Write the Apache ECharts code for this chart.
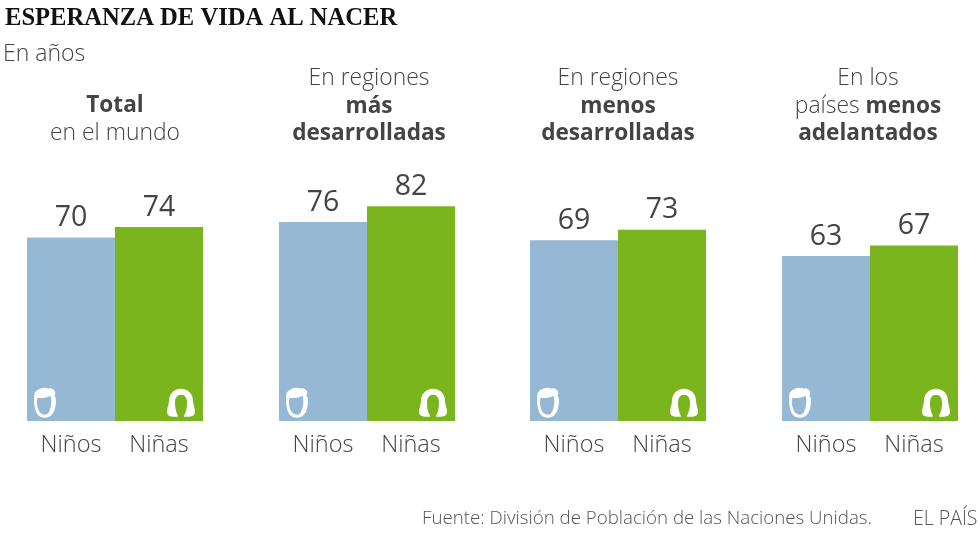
<!DOCTYPE html>
<html>
<head>
<meta charset="utf-8">
<style>
  html, body { margin: 0; padding: 0; background: #fff; }
  #chart { width: 980px; height: 542px; }
</style>
<script src="https://cdn.jsdelivr.net/npm/echarts@6/dist/echarts.min.js"></script>
</head>
<body>
<div id="chart"></div>
<script>
const categories = ["Niños", "Niñas"];
const boysValues = [70, 76, 69, 63];
const girlsValues = [74, 82, 73, 67];
const headers = [
  "{b|Total}\n{n|en el mundo}",
  "{n|En regiones}\n{b|más}\n{b|desarrolladas}",
  "{n|En regiones}\n{b|menos}\n{b|desarrolladas}",
  "{n|En los}\n{n|países }{b|menos}\n{b|adelantados}",
];
const headerTops = [92, 65, 65, 65];
const headerCenters = [115, 369, 618, 868];
const gridLefts = [27, 279, 530, 782];

const BOY_COLOR = "#95b9d4";
const GIRL_COLOR = "#7ab51d";
const TEXT_COLOR = "#444444";
const FONT = "'Open Sans', sans-serif";

// iconos dibujados a mano, el hueco de la cara va en sentido contrario
const boyIcon =
  "path://M1 5 C5 0 12 -1 16 1 C19 0 22 2 23 5 L22 8 C24 10 24 14 23 19 C22 26 17 30 12 30 C6 30 2 26 1 19 C0 14 0 9 1 5 Z " +
  "M4 10 C3 13 3 16 4 19 C5 24 8 27 12 27 C15 27 17 24 18 19 C19 16 19 12 18 8 C14 10 8 11 4 10 Z";
const girlIcon =
  "path://M14 0 C21 0 26 5 26 12 C26 16 28 19 28 23 C28 26 26 28 20 28 L17 28 C17 26 20 23 20 14 C20 9 18 6 14 6 C10 6 8 9 8 14 C8 23 11 26 11 28 L8 28 C2 28 0 26 0 23 C0 19 2 16 2 12 C2 5 7 0 14 0 Z";

const titles = [
  {
    text: "ESPERANZA DE VIDA AL NACER",
    left: 5,
    top: 6,
    padding: 0,
    textStyle: {
      fontFamily: "'Liberation Serif', serif",
      fontSize: 24.6,
      fontWeight: "bold",
      color: "#111111",
    },
  },
  {
    text: "En años",
    left: 3,
    top: 43,
    padding: 0,
    textStyle: {
      fontFamily: FONT,
      fontSize: 23,
      fontWeight: 300,
      color: TEXT_COLOR,
    },
  },
];

headers.forEach((text, i) => {
  titles.push({
    text,
    left: headerCenters[i],
    top: headerTops[i],
    padding: 0,
    textAlign: "center",
    textStyle: {
      rich: {
        n: { fontFamily: FONT, fontSize: 22.9, fontWeight: 300, color: TEXT_COLOR, lineHeight: 27.5 },
        b: { fontFamily: FONT, fontSize: 22.6, fontWeight: "bold", color: TEXT_COLOR, lineHeight: 27.5 },
      },
    },
  });
});

titles.push({
  text: "Fuente: División de Población de las Naciones Unidas.",
  left: 422,
  top: 509,
  padding: 0,
  textStyle: { fontFamily: FONT, fontSize: 18.7, fontWeight: 300, color: "#555555" },
});
titles.push({
  text: "EL PAÍS",
  left: 913,
  top: 509,
  padding: 0,
  textStyle: { fontFamily: FONT, fontSize: 19.5, fontWeight: 300, color: "#555555" },
});

const grids = [];
const xAxes = [];
const yAxes = [];
const series = [];

gridLefts.forEach((left, i) => {
  grids.push({ left, top: 159, width: 176, height: 262 });
  xAxes.push({
    type: "category",
    gridIndex: i,
    data: categories,
    axisLine: { show: false },
    axisTick: { show: false },
    axisLabel: {
      margin: 12,
      fontFamily: FONT,
      fontSize: 23.5,
      fontWeight: 300,
      color: TEXT_COLOR,
    },
  });
  yAxes.push({ type: "value", gridIndex: i, min: 0, max: 100, show: false });

  series.push({
    type: "bar",
    xAxisIndex: i,
    yAxisIndex: i,
    barWidth: "100%",
    silent: true,
    data: [
      { value: boysValues[i], itemStyle: { color: BOY_COLOR } },
      { value: girlsValues[i], itemStyle: { color: GIRL_COLOR } },
    ],
    label: {
      show: true,
      position: "top",
      distance: 5,
      fontFamily: FONT,
      fontSize: 28.5,
      fontWeight: 500,
      color: TEXT_COLOR,
    },
  });
  series.push({
    type: "scatter",
    xAxisIndex: i,
    yAxisIndex: i,
    silent: true,
    z: 5,
    data: [
      { value: [0, 7], symbol: boyIcon, symbolSize: [22, 30], symbolOffset: [-26, 0] },
      { value: [1, 7], symbol: girlIcon, symbolSize: [28, 28], symbolOffset: [22, 0] },
    ],
    itemStyle: { color: "#ffffff", opacity: 1 },
  });
});

const chart = echarts.init(document.getElementById("chart"), null, { renderer: "canvas" });
chart.setOption({
  animation: false,
  backgroundColor: "#ffffff",
  title: titles,
  grid: grids,
  xAxis: xAxes,
  yAxis: yAxes,
  series,
});
</script>
</body>
</html>
